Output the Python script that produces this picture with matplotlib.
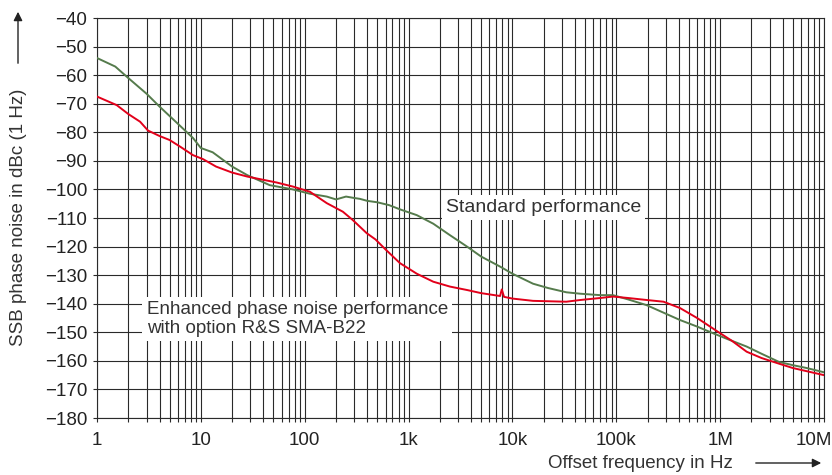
import matplotlib
matplotlib.use("Agg")
import matplotlib.pyplot as plt
import matplotlib.transforms as mtransforms
from matplotlib.patches import FancyArrowPatch
import numpy as np
from matplotlib.ticker import FixedLocator, LogLocator, NullFormatter

plt.rcParams['font.family'] = ['Liberation Sans', 'DejaVu Sans']

# standard performance (green)
std_freq = [1, 1.5, 2, 3, 4, 6, 8.4, 10, 13, 20, 28, 46, 77, 112, 163, 200, 250,
            300, 340, 400, 500, 650, 830, 1200, 1730, 2500, 3650, 5000, 7600, 10000,
            15800, 22000, 33000, 45000, 70000, 93000, 130000, 196000, 300000, 410000,
            600000, 850000, 1.2e6, 1.8e6, 2.5e6, 3.7e6, 5e6, 6.8e6, 1e7]
std_noise = [-54, -57, -61, -66.5, -71, -77, -82, -85.5, -87, -92, -95, -98.5, -100,
             -101.5, -102.5, -103.5, -102.5, -103, -103.3, -104, -104.5, -105.5, -107,
             -109, -112, -116, -120, -123.5, -127, -129.5, -133, -134.5, -136, -136.5,
             -137, -137, -138.5, -140.5, -143.5, -145.7, -148, -150.3, -152.5, -155,
             -157.5, -160.4, -161.5, -162.5, -164]

# enhanced performance with option R&S SMA-B22 (red)
enh_freq = [1, 1.55, 2, 2.6, 3.1, 4, 5, 6.3, 8.4, 10.5, 14, 20, 28, 54, 77, 112, 163,
            233, 290, 395, 480, 600, 826, 1200, 1730, 2500, 3650, 5000, 7600, 7900,
            8300, 10000, 15800, 33000, 45000, 70000, 93000, 130000, 196000, 285000,
            410000, 600000, 950000, 1.3e6, 1.8e6, 2.5e6, 3.7e6, 5e6, 1e7]
enh_noise = [-67.5, -70.5, -73.6, -76.3, -79.4, -81.3, -82.7, -85, -88, -89.4, -92,
             -94.1, -95.5, -97.6, -99, -100.8, -104.8, -107.8, -110.7, -115.3, -117.5,
             -121, -125.8, -129.5, -132.3, -134, -135.2, -136.3, -137.3, -135, -137.6,
             -138.2, -139, -139.3, -138.7, -138, -137.5, -138, -138.7, -139.3, -141.5,
             -145, -149.8, -153, -156.8, -159, -161, -162.5, -165]

x_ticks = [1, 10, 100, 1e3, 1e4, 1e5, 1e6, 1e7]
x_labels = ['1', '10', '100', '1k', '10k', '100k', '1M', '10M']
y_ticks = list(range(-180, -39, 10))

W, H = 832, 475
fig = plt.figure(figsize=(W / 100, H / 100), dpi=100)
ax = fig.add_axes([97 / W, 1 - 418 / H, (824 - 97) / W, (418 - 18) / H])

ax.set_xscale('log')
ax.set_xlim(1, 1e7)
ax.set_ylim(-180, -40)

ax.xaxis.set_major_locator(FixedLocator(x_ticks))
ax.set_xticklabels(x_labels)
ax.xaxis.set_minor_locator(LogLocator(base=10, subs=np.arange(2, 10)))
ax.xaxis.set_minor_formatter(NullFormatter())
ax.set_yticks(y_ticks)
ax.set_yticklabels([f'\u2212{abs(v)}' for v in y_ticks])

ax.grid(which='both', axis='x', color='#2a2a2a', lw=0.8)
ax.grid(which='major', axis='y', color='#2a2a2a', lw=0.8)
ax.tick_params(which='both', direction='out', length=3, width=0.8, color='#2a2a2a',
               labelsize=13.5, labelcolor='#222222')
ax.tick_params(axis='x', pad=7)
ax.tick_params(axis='y', pad=4)
for s in ax.spines.values():
    s.set_color('#2a2a2a')
    s.set_linewidth(0.8)

# last x label sits flush with the right edge
last = ax.get_xticklabels()[-1]
last.set_horizontalalignment('right')
last.set_transform(last.get_transform() +
                   mtransforms.ScaledTranslation(8 / 100, 0, fig.dpi_scale_trans))

ax.plot(std_freq, std_noise, color='#557b4c', lw=1.4, zorder=3)
ax.plot(enh_freq, enh_noise, color='#e2001a', lw=1.4, zorder=4)

ax.text(2290, -106.3, 'Standard performance', fontsize=14, color='#333333',
        va='center', ha='left', zorder=5,
        bbox=dict(facecolor='white', edgecolor='none', pad=3))
ax.text(3.0, -145.4, 'Enhanced phase noise performance\nwith option R&S SMA-B22',
        fontsize=13.5, color='#333333', va='center', ha='left', linespacing=1.15,
        zorder=5, bbox=dict(facecolor='white', edgecolor='none', pad=3))

# axis titles with arrows
fig.text(19 / W, 1 - 217 / H, 'SSB phase noise in dBc (1 Hz)', rotation=90,
         fontsize=13.5, color='#333333', ha='center', va='center')
fig.add_artist(FancyArrowPatch(
    (18 / W, 1 - 66 / H), (18 / W, 1 - 9 / H), transform=fig.transFigure,
    arrowstyle='-|>', mutation_scale=13, color='#222222', lw=1))
fig.text(733 / W, 1 - 463 / H, 'Offset frequency in Hz', fontsize=13.5,
         color='#333333', ha='right', va='center')
fig.add_artist(FancyArrowPatch(
    (753 / W, 1 - 463 / H), (824 / W, 1 - 463 / H), transform=fig.transFigure,
    arrowstyle='-|>', mutation_scale=13, color='#222222', lw=1))

fig.savefig('out.png', dpi=100)
